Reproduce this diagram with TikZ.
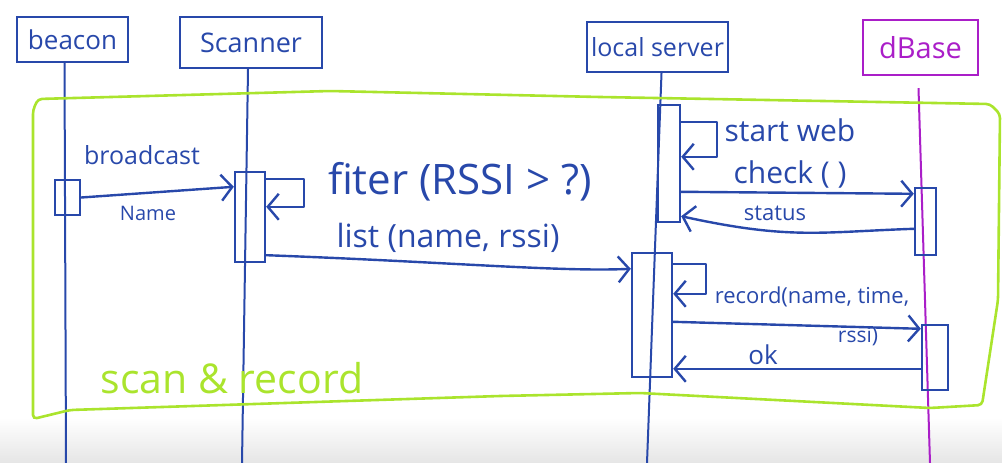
\documentclass[tikz,border=0pt]{standalone}
\usepackage{fontspec}
\setmainfont{Open Sans}
\usetikzlibrary{arrows.meta}
\definecolor{ink}{RGB}{40,72,170}
\definecolor{lime}{RGB}{170,228,45}
\definecolor{violet}{RGB}{170,30,200}
\newcommand{\hsz}[1]{\fontsize{#1}{#1}\selectfont}
\begin{document}
\begin{tikzpicture}[x=1pt,y=-1pt,
  actor/.style={draw=ink, line width=2.4pt, inner sep=0pt, text=ink, font=\hsz{26}},
  life/.style={draw=ink, line width=2pt},
  actbox/.style={draw=ink, line width=2.4pt, inner sep=0pt},
  msg/.style={draw=ink, line width=2.4pt, line cap=round, line join=round, -{Straight Barb[length=11pt,width=26pt]}},
  lbl/.style={text=ink, inner sep=0pt}]
\useasboundingbox (0,0) rectangle (1002,463);
\shade[top color=white, bottom color=black!10] (0,418) rectangle (1002,463);
% actors
\node[actor, minimum width=111pt, minimum height=45pt] (beacon) at (72.5,39.5) {beacon};
\node[actor, minimum width=142pt, minimum height=51pt, font=\hsz{27}] (scanner) at (251,42.5) {Scanner};
\node[actor, minimum width=141pt, minimum height=50pt, font=\hsz{25}] (local) at (657.5,47) {local server};
\node[actor, draw=violet, text=violet, minimum width=115pt, minimum height=55pt, font=\hsz{29}] (dbase) at (920.5,47.5) {dBase};
% lifelines
\coordinate (beaconEnd) at (66,463);
\coordinate (scannerEnd) at (242,463);
\coordinate (localEnd) at (647,463);
\coordinate (dbaseEnd) at (930,463);
\draw[life] ([xshift=-8pt]beacon.south) -- (beaconEnd);
\draw[life] ([xshift=-3pt]scanner.south) -- (scannerEnd);
\draw[life] ([xshift=4pt]local.south) -- (localEnd);
\draw[life, draw=violet] ([xshift=-2pt,yshift=-12pt]dbase.south) -- (dbaseEnd);
% green frame
\draw[lime, line width=2.6pt, rounded corners=4pt]
  (33,110) -- (38,99) -- (330,91) -- (600,97) -- (990,104) -- (1000,114)
  -- (998,300) -- (982,405) -- (930,408) -- (640,393) -- (500,396)
  -- (70,410) -- (33,419) -- cycle;
\node[lbl, text=lime, font=\hsz{41}] (frame) at (232,378) {scan \& record};
% activation boxes
\node[actbox, minimum width=25pt, minimum height=35pt] (bA) at (67.5,197.5) {};
\node[actbox, minimum width=30pt, minimum height=90pt] (sA) at (250,217) {};
\node[actbox, minimum width=22pt, minimum height=117pt] (lA) at (669,163.5) {};
\node[actbox, minimum width=40pt, minimum height=124pt] (lB) at (652,315) {};
\node[actbox, minimum width=21pt, minimum height=67pt] (dA) at (925.5,221.5) {};
\node[actbox, minimum width=26pt, minimum height=65pt] (dB) at (935,357.5) {};
% messages
\draw[msg] (bA.east) -- ([yshift=-16pt]sA.north west);
\node[lbl, font=\hsz{25}] (bcast) at (142,155) {broadcast};
\node[lbl, font=\hsz{20}] (nameL) at (148,213) {Name};
\draw[msg] ([yshift=-8pt]sA.north east) -- ++(38,0) |- ([yshift=-36pt]sA.north east);
\node[lbl, font=\hsz{42}] (filterL) at (460,182) {fiter (RSSI > ?)};
\draw[msg] ([yshift=8pt]sA.south east) .. controls (450,262) and (560,272) .. ([yshift=-17pt]lB.north west);
\node[lbl, font=\hsz{32}] (listL) at (448,238) {list (name, rssi)};
\draw[msg] ([yshift=-18pt]lA.north east) -- ++(36,0) |- ([yshift=-53pt]lA.north east);
\node[lbl, font=\hsz{30}] (startL) at (790,130) {start web};
\draw[msg] ([yshift=-88pt]lA.north east) -- ([yshift=-7pt]dA.north west);
\node[lbl, font=\hsz{30}] (checkL) at (790,174) {check ( )};
\draw[msg] ([yshift=-42pt]dA.north west) .. controls (820,232) and (790,240) .. ([yshift=7pt]lA.south east);
\node[lbl, font=\hsz{22}] (statusL) at (775,213) {status};
\draw[msg] ([yshift=-12pt]lB.north east) -- ++(33,0) |- ([yshift=-42pt]lB.north east);
\draw[msg] ([yshift=-70pt]lB.north east) -- ([yshift=-5pt]dB.north west);
\node[lbl, font=\hsz{22}] (recordL) at (812,297) {record(name, time,};
\node[lbl, font=\hsz{21}] (rssiL) at (858,336) {rssi)};
\draw[msg] ([yshift=-45pt]dB.north west) -- ([yshift=-117pt]lB.north east);
\node[lbl, font=\hsz{26}] (okL) at (763,355) {ok};
\end{tikzpicture}
\end{document}
